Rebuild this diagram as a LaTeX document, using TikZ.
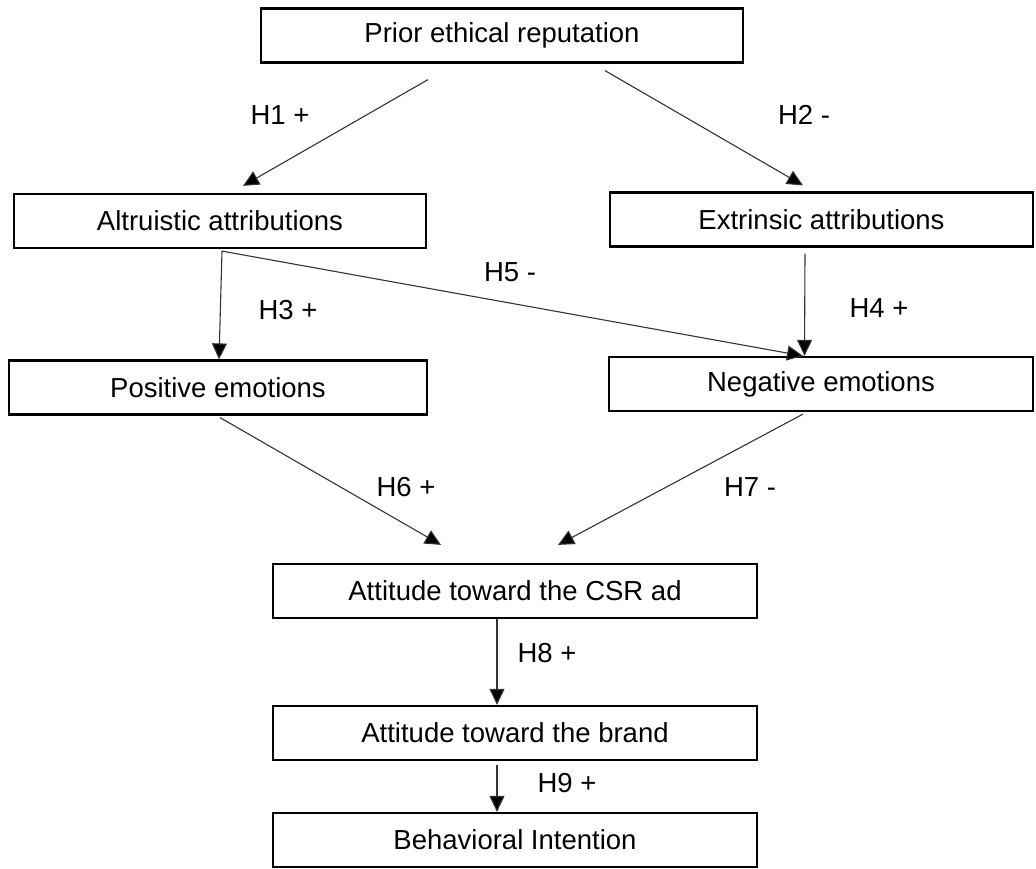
\documentclass[tikz,border=0pt]{standalone}
\usepackage{fontspec}
\setmainfont{Liberation Sans}
\usetikzlibrary{arrows.meta}
\begin{document}
\begin{tikzpicture}[x=1pt,y=-1pt,
 box/.style={draw=black, line width=2.2pt, fill=white, minimum height=54pt, inner sep=0pt, font=\fontsize{27.5}{32}\selectfont},
 arr/.style={line width=1.1pt, draw=black!80, -{Triangle[length=16pt,width=15pt,fill=black]}},
 lab/.style={font=\fontsize{27.5}{32}\selectfont, inner sep=0pt}]
\useasboundingbox (0,0) rectangle (1036,869);
\node[box, minimum width=482pt] (prior) at (502,35.5) {Prior ethical reputation};
\node[box, minimum width=412pt] (alt) at (220,221) {Altruistic attributions};
\node[box, minimum width=423pt] (ext) at (821.5,219.5) {Extrinsic attributions};
\node[box, minimum width=418pt] (pos) at (218,387.5) {Positive emotions};
\node[box, minimum width=424pt] (neg) at (821,384) {Negative emotions};
\node[box, minimum width=484pt] (csr) at (515,591) {Attitude toward the CSR ad};
\node[box, minimum width=484pt] (brand) at (515,733) {Attitude toward the brand};
\node[box, minimum width=484pt] (beh) at (515,840) {Behavioral Intention};

\draw[arr] ([xshift=-74pt,yshift=-16pt]prior.south) -- ([xshift=23pt,yshift=7pt]alt.north);
\draw[arr] ([xshift=103pt,yshift=-7pt]prior.south) -- ([xshift=-18.5pt,yshift=6pt]ext.north);
\draw[arr] ([xshift=2pt,yshift=-2pt]alt.south) -- ([xshift=1pt]pos.north);
\draw[arr] ([xshift=2pt,yshift=-2pt]alt.south) -- ([xshift=-18pt]neg.north);
\draw[arr] ([xshift=-16.5pt,yshift=-6pt]ext.south) -- ([xshift=-16.5pt]neg.north);
\draw[arr] ([xshift=2pt,yshift=-2pt]pos.south) -- ([xshift=-74pt,yshift=18pt]csr.north);
\draw[arr] ([xshift=-18pt,yshift=-2pt]neg.south) -- ([xshift=43pt,yshift=18pt]csr.north);
\draw[arr] ([xshift=-18pt]csr.south) -- ([xshift=-18pt]brand.north);
\draw[arr] ([xshift=-18pt,yshift=-4pt]brand.south) -- ([xshift=-18pt]beh.north);

\node[lab] (l1) at (280,115) {H1 +};
\node[lab] (l2) at (804,115) {H2 -};
\node[lab] (l3) at (288,310) {H3 +};
\node[lab] (l4) at (879,308) {H4 +};
\node[lab] (l5) at (510,272) {H5 -};
\node[lab] (l6) at (406,487) {H6 +};
\node[lab] (l7) at (750,487) {H7 -};
\node[lab] (l8) at (547,653) {H8 +};
\node[lab] (l9) at (567,783) {H9 +};
\end{tikzpicture}
\end{document}
